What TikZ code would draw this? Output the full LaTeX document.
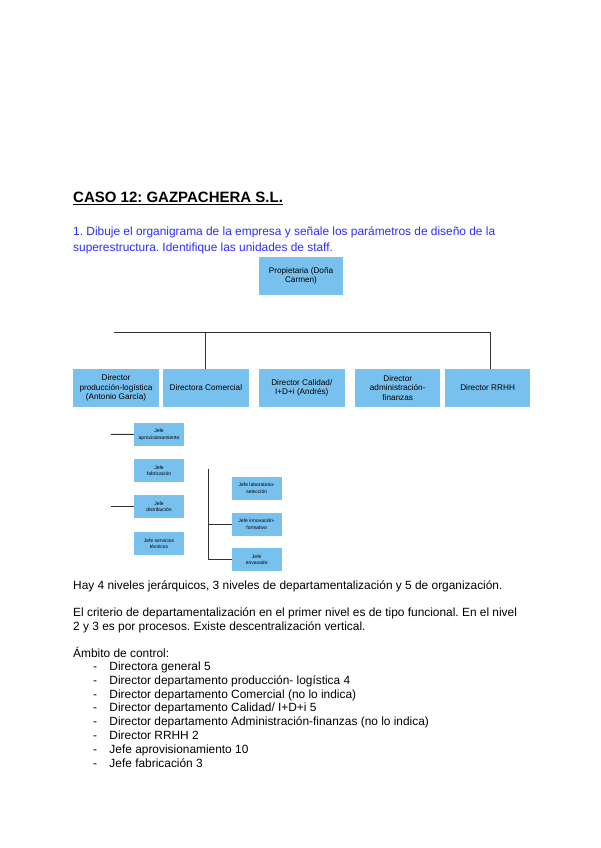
\documentclass[tikz,border=0pt]{standalone}
\usepackage{fontspec}
\setmainfont{Liberation Sans}
\usetikzlibrary{positioning}
\definecolor{boxblue}{RGB}{120,192,238}
\definecolor{askblue}{RGB}{45,45,245}
\definecolor{linegray}{RGB}{50,50,50}
\frenchspacing

\begin{document}
\begin{tikzpicture}[x=1pt, y=-1pt,
        unit/.style={rectangle, fill=boxblue, minimum width=85.5pt, minimum height=37.7pt, inner sep=1pt, align=center, font=\fontsize{8.2}{9.3}\selectfont},
        subunit/.style={rectangle, fill=boxblue, minimum width=50pt, minimum height=23pt, inner sep=1pt, align=center, font=\fontsize{5}{6.5}\selectfont},
        link/.style={draw=linegray, line width=1pt},
        para/.style={anchor=base west, inner sep=0pt, font=\fontsize{11.9}{13.8}\selectfont}
    ]
        \useasboundingbox (0,0) rectangle (600,848);
        % heading and question
        \node[anchor=base west, inner sep=0pt, font=\fontsize{15}{18}\selectfont\bfseries] (title) at (73,202.7) {\underline{CASO 12: GAZPACHERA S.L.}};
        \node[para, text=askblue] (ask1) at (73,235.3) {1. Dibuje el organigrama de la empresa y señale los parámetros de diseño de la};
        \node[para, text=askblue] (ask2) at (73,251.7) {superestructura. Identifique las unidades de staff.};
        % organigrama
        \node[unit, minimum width=84pt, minimum height=38pt] (owner) at (301,276) {Propietaria (Doña\\Carmen)};
        \node[unit] (dprod) at (116,388) {Director\\producción-logística\\(Antonio García)};
        \node[unit, right=4pt of dprod] (dcom) {Directora Comercial};
        \node[unit, right=10pt of dcom] (dcal) {Director Calidad/\\I+D+i (Andrés)};
        \node[unit, right=10pt of dcal] (dadm) {Director\\administración-\\finanzas};
        \node[unit, right=4pt of dadm] (drrhh) {Director RRHH};
        \coordinate (barL) at (114,332.3);
        \coordinate (barR) at (490,332.3);
        \draw[link] (barL) -- (barR);
        \draw[link] (barL -| dcom.north) -- (dcom.north);
        \draw[link] (barR) -- (barR |- drrhh.north);
        % segundo nivel
        \node[subunit] (japro) at (159,434.5) {Jefe\\aprovisionamiento};
        \node[subunit, below=12.6pt of japro] (jfab) {Jefe\\fabricación};
        \node[subunit, below=12.6pt of jfab] (jdist) {Jefe\\distribución};
        \node[subunit, below=14pt of jdist] (jserv) {Jefe servicios\\técnicos};
        \coordinate (stub) at (111,434.3);
        \draw[link] (stub) -- (japro.west);
        \draw[link] (stub |- jdist.west) -- (jdist.west);
        \node[subunit] (jsel) at (256.7,488.3) {Jefe laboratorio-\\selección};
        \node[subunit, below=12.4pt of jsel] (jform) {Jefe innovación-\\formativo};
        \node[subunit, below=12.4pt of jform] (jenv) {Jefe\\envasado};
        \coordinate (spine) at (208,469.3);
        \draw[link] (spine) -- (spine |- jenv.west) -- (jenv.west);
        \draw[link] (spine |- jform.west) -- (jform.west);
        % comentario
        \node[para] (lev) at (73,589) {Hay 4 niveles jerárquicos, 3 niveles de departamentalización y 5 de organización.};
        \node[para] (crit1) at (73,616) {El criterio de departamentalización en el primer nivel es de tipo funcional. En el nivel};
        \node[para] (crit2) at (73,630) {2 y 3 es por procesos. Existe descentralización vertical.};
        \node[para] (amb) at (73,657) {Ámbito de control:};
        \node[para] (amb1) at (93,670.5) {\makebox[16.3pt][l]{-}Directora general 5};
        \node[para] (amb2) at (93,684.3) {\makebox[16.3pt][l]{-}Director departamento producción- logística 4};
        \node[para] (amb3) at (93,698.1) {\makebox[16.3pt][l]{-}Director departamento Comercial (no lo indica)};
        \node[para] (amb4) at (93,711.9) {\makebox[16.3pt][l]{-}Director departamento Calidad/ I+D+i 5};
        \node[para] (amb5) at (93,725.7) {\makebox[16.3pt][l]{-}Director departamento Administración-finanzas (no lo indica)};
        \node[para] (amb6) at (93,739.5) {\makebox[16.3pt][l]{-}Director RRHH 2};
        \node[para] (amb7) at (93,753.3) {\makebox[16.3pt][l]{-}Jefe aprovisionamiento 10};
        \node[para] (amb8) at (93,767.1) {\makebox[16.3pt][l]{-}Jefe fabricación 3};
    \end{tikzpicture}
\end{document}
